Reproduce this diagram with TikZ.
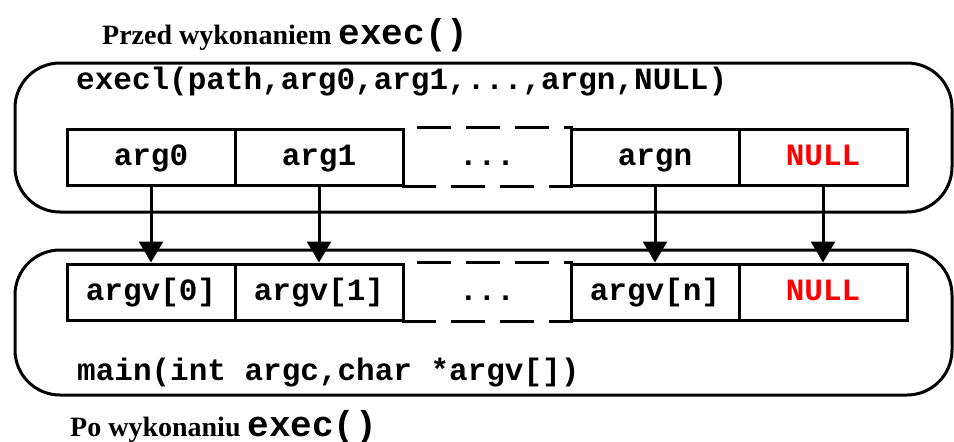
\documentclass[tikz,border=0pt]{standalone}
\usepackage{fontspec}
\setmainfont{Liberation Serif}
\setmonofont{Liberation Mono}
\usetikzlibrary{arrows.meta}
\tikzset{
  cell/.style={draw, line width=3pt, minimum width=168pt, minimum height=56pt, inner sep=0pt,
    text height=22pt, text depth=6pt,
    font=\fontsize{31}{36}\selectfont\ttfamily\bfseries},
  gapcell/.style={cell, draw=none},
  frame/.style={draw, line width=3pt, rounded corners=45pt, inner sep=0pt},
  code/.style={anchor=base west, inner sep=0pt, font=\fontsize{31}{36}\selectfont\ttfamily\bfseries},
  title/.style={anchor=base west, inner sep=0pt, font=\fontsize{28}{32}\selectfont\bfseries},
  pass/.style={line width=3pt, -{Triangle[length=21pt,width=24pt]}}
}
\newcommand{\titlecode}[1]{{\fontsize{36}{36}\selectfont\ttfamily #1}}
\colorlet{nullred}{red}
\begin{document}
\begin{tikzpicture}[x=1pt,y=-1pt]
\useasboundingbox (0,0) rectangle (954,442);
\node[frame, minimum width=937pt, minimum height=149pt] (before) at (483.5,137.5) {};
\node[frame, minimum width=937pt, minimum height=145pt] (after) at (483.5,322.5) {};
\node[title] (t1) at (102,44) {Przed wykonaniem \titlecode{exec()}};
\node[title] (t2) at (70,436) {Po wykonaniu \titlecode{exec()}};
\node[code] (call) at (76,89) {execl(path,arg0,arg1,...,argn,NULL)};
\node[code] (entry) at (77,380) {main(int argc,char *argv[])};
\node[cell] (a0) at (151,157) {arg0};
\node[cell] (a1) at (319,157) {arg1};
\node[gapcell] (ad) at (487,157) {...};
\node[cell] (an) at (655,157) {argn};
\node[cell, text=nullred] (anull) at (823,157) {NULL};
\node[cell] (v0) at (151,292) {argv[0]};
\node[cell] (v1) at (319,292) {argv[1]};
\node[gapcell] (vd) at (487,292) {...};
\node[cell] (vn) at (655,292) {argv[n]};
\node[cell, text=nullred] (vnull) at (823,292) {NULL};
\draw[line width=3pt, dash pattern=on 34pt off 15pt, dash phase=-15pt] (ad.north west) -- (ad.north east);
\draw[line width=3pt, dash pattern=on 34pt off 15pt] (ad.south west) -- (ad.south east);
\draw[line width=3pt, dash pattern=on 34pt off 15pt, dash phase=-15pt] (vd.north west) -- (vd.north east);
\draw[line width=3pt, dash pattern=on 34pt off 15pt] (vd.south west) -- (vd.south east);
\draw[pass] (a0) -- (v0);
\draw[pass] (a1) -- (v1);
\draw[pass] (an) -- (vn);
\draw[pass] (anull) -- (vnull);
\end{tikzpicture}
\end{document}
